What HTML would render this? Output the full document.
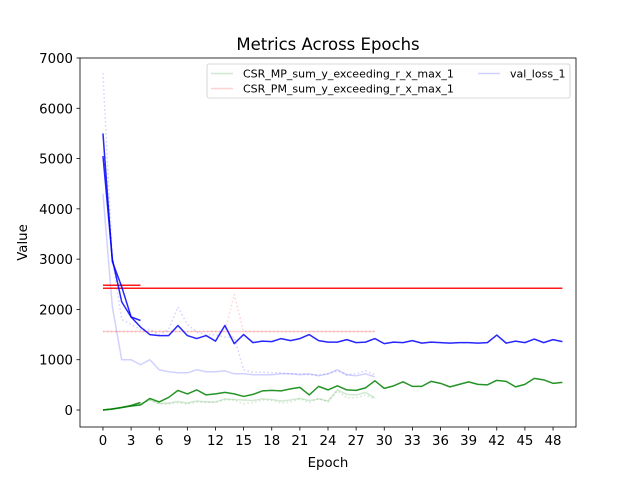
<!DOCTYPE html>
<html><head><meta charset="utf-8"><style>
body{margin:0;background:#fff;}
svg{display:block;font-family:"DejaVu Sans","Liberation Sans",sans-serif;}
</style></head><body>
<svg id="chart" width="640" height="480"></svg>
<script>
const blueMain = [5050,3000,2150,1850,1650,1500,1480,1480,1680,1480,1420,1480,1370,1680,1320,1500,1340,1370,1360,1420,1380,1420,1500,1380,1350,1350,1400,1340,1350,1420,1320,1350,1340,1380,1330,1350,1340,1330,1340,1340,1330,1340,1490,1330,1370,1340,1410,1340,1400,1360];
const blueShort = [5500,2950,2450,1850,1780];
const blueLight = [4300,2050,1000,1000,900,1000,800,760,740,740,800,760,760,780,720,720,700,700,700,720,720,700,720,680,720,800,700,680,720,660];
const blueDotted = [6700,3000,1800,1700,1600,1600,1500,1600,2050,1700,1550,1500,1500,1450,1450,800,750,750,740,740,720,720,700,700,720,780,700,720,780,700];
const redMain = Array(50).fill(2420);
const redShort = [2480,2480,2480,2480,2480];
const redLight = Array(30).fill(1560);
const redDotted = [1560,1560,1560,1560,1560,1560,1560,1560,1560,1560,1560,1560,1560,1560,2300,1560,1560,1560,1560,1560,1560,1560,1560,1560,1560,1560,1560,1560,1560,1560];
const greenMain = [0,20,50,80,100,230,160,250,390,320,400,300,320,350,320,270,310,380,390,380,420,450,300,470,400,480,400,390,440,580,430,480,560,470,470,570,530,460,510,560,510,500,590,570,460,510,630,600,530,550];
const greenShort = [0,20,50,90,150];
const greenLight = [0,20,50,80,120,200,130,140,170,140,180,160,160,220,210,200,190,220,210,180,200,230,190,220,180,400,310,300,350,240];
const greenDotted = [0,20,50,80,120,200,120,120,140,120,160,160,150,200,200,120,150,200,190,140,160,220,150,230,160,380,240,240,300,220];
const xTicks = [0,3,6,9,12,15,18,21,24,27,30,33,36,39,42,45,48];
const yTicks = [0,1000,2000,3000,4000,5000,6000,7000];

const NS="http://www.w3.org/2000/svg";
const svg=document.getElementById('chart');
const L=80,R=576,T=58,B=427;
const xMin=-2.45,xMax=50.45,yMin=-338,yMax=7000;
const sx=v=>L+(v-xMin)/(xMax-xMin)*(R-L);
const sy=v=>B-(v-yMin)/(yMax-yMin)*(B-T);
function mk(tag,attrs,parent){const e=document.createElementNS(NS,tag);for(const k in attrs)e.setAttribute(k,attrs[k]);(parent||svg).appendChild(e);return e;}
const clip=mk('clipPath',{id:'cp'});mk('rect',{x:L,y:T,width:R-L,height:B-T},clip);
const g=mk('g',{'clip-path':'url(#cp)'});
function lineG(vals,color,width,opacity,dash,name){
  const p=mk('polyline',{points:vals.map((v,i)=>sx(i)+','+sy(v)).join(' '),fill:'none',stroke:color,'stroke-width':width,'stroke-opacity':opacity,'stroke-linejoin':'round'},g);
  if(dash)p.setAttribute('stroke-dasharray',dash);
  
  
}
lineG(blueDotted,'#0000ff',1.5,0.18,'1.5,2.5','val-loss-dotted');
lineG(redDotted,'#ff0000',1.5,0.18,'1.5,2.5','csr-pm-dotted');
lineG(greenDotted,'#008000',1.5,0.18,'1.5,2.5','csr-mp-dotted');
lineG(blueLight,'#0000ff',1.5,0.18,null,'val-loss-light');
lineG(redLight,'#ff0000',1.5,0.18,null,'csr-pm-light');
lineG(greenLight,'#008000',1.5,0.18,null,'csr-mp-light');
lineG(redMain,'#ff0000',1.5,0.9,null,'csr-pm-main');
lineG(redShort,'#ff0000',1.5,0.9,null,'csr-pm-short');
lineG(blueMain,'#0000ff',1.5,0.85,null,'val-loss-main');
lineG(blueShort,'#0000ff',1.5,0.85,null,'val-loss-short');
lineG(greenMain,'#008000',1.5,0.85,null,'csr-mp-main');
lineG(greenShort,'#008000',1.5,0.85,null,'csr-mp-short');

const frame=mk('rect',{x:L,y:T,width:R-L,height:B-T,fill:'none',stroke:'#000','stroke-width':0.8});

xTicks.forEach(t=>{
  const x=sx(t);
  mk('line',{x1:x,x2:x,y1:B,y2:B+3.5,stroke:'#000','stroke-width':0.8});
  const tx=mk('text',{x:x,y:B+18,'font-size':13.3,'text-anchor':'middle'});tx.textContent=t;
  
});
yTicks.forEach(t=>{
  const y=sy(t);
  mk('line',{x1:L-3.5,x2:L,y1:y,y2:y,stroke:'#000','stroke-width':0.8});
  const tx=mk('text',{x:L-7,y:y+5,'font-size':13.3,'text-anchor':'end'});tx.textContent=t;
  
});
const title=mk('text',{x:(L+R)/2,y:50,'font-size':16.5,'text-anchor':'middle'});title.textContent='Metrics Across Epochs';

const xl=mk('text',{x:(L+R)/2,y:467,'font-size':13.3,'text-anchor':'middle'});xl.textContent='Epoch';

const yl=mk('text',{x:27,y:(T+B)/2,'font-size':13.3,'text-anchor':'middle',transform:'rotate(-90 27 '+((T+B)/2)+')'});yl.textContent='Value';


const lg=mk('g',{});

mk('rect',{x:207,y:64,width:363,height:34,rx:2,fill:'#fff','fill-opacity':0.8,stroke:'#ccc','stroke-width':0.8},lg);
const entries=[['CSR_MP_sum_y_exceeding_r_x_max_1','#008000',211,73.5],['CSR_PM_sum_y_exceeding_r_x_max_1','#ff0000',211,88.5],['val_loss_1','#0000ff',478,73.5]];
entries.forEach(([lab,c,x,y])=>{
  mk('line',{x1:x,x2:x+22,y1:y,y2:y,stroke:c,'stroke-opacity':0.18,'stroke-width':1.5},lg);
  const t=mk('text',{x:x+32,y:y+4,'font-size':11},lg);t.textContent=lab;
  
});
</script>
</body></html>
